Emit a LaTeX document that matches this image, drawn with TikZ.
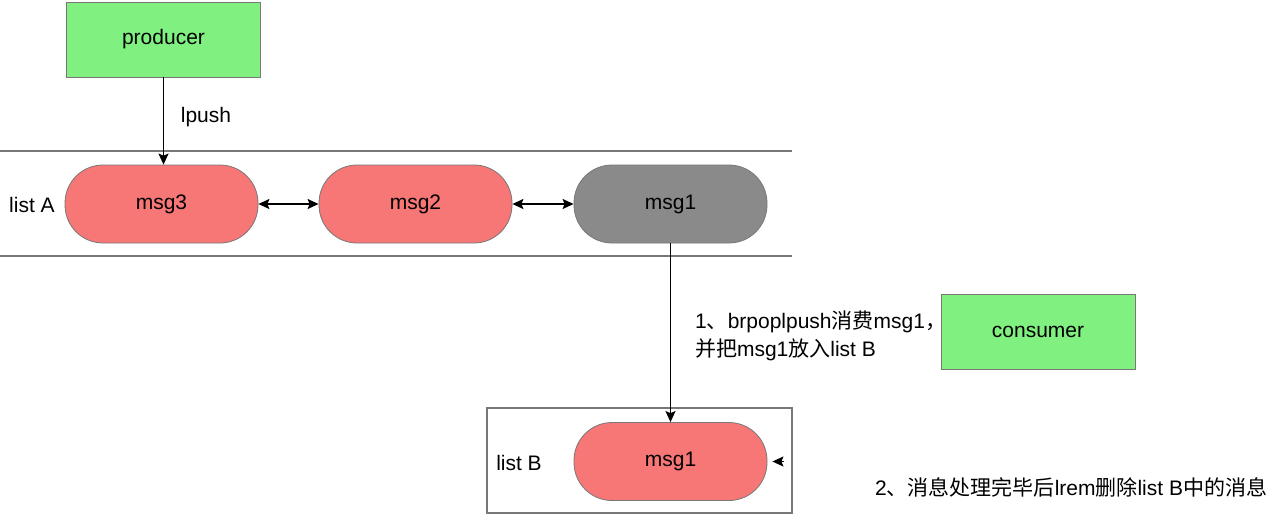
\documentclass[tikz,border=0pt]{standalone}
\usepackage{fontspec}
\setmainfont{Liberation Sans}
\newfontfamily\cjk{Noto Sans CJK SC}
\newcommand\zh[1]{{\cjk #1}}
\usetikzlibrary{arrows.meta}
\definecolor{boxgreen}{RGB}{128,240,128}
\definecolor{msgred}{RGB}{247,118,118}
\definecolor{msggray}{RGB}{138,138,138}
\definecolor{edgegray}{RGB}{120,120,120}

\begin{document}
\begin{tikzpicture}[x=0.5pt,y=-0.5pt,
    >={Stealth[length=5.5pt,width=5pt,inset=1pt]},
    font=\fontsize{10.5}{14}\selectfont,
    role/.style={draw=edgegray,fill=boxgreen,minimum width=97pt,minimum height=37.5pt},
    msg/.style={draw=edgegray,fill=msgred,rounded corners=19pt,minimum width=96.5pt,minimum height=39pt},
    frame/.style={edgegray,line width=0.8pt},
    link/.style={->,line width=0.7pt}]
  \useasboundingbox (0,0) rectangle (1280,516);
  % list A band
  \draw[frame] (0,151)--(792,151);
  \draw[frame] (0,256)--(792,256);
  \node (lA) at (32,205) {list A};
  % list B frame
  \draw[frame] (487,408) rectangle (792,513);
  \node (lB) at (519,463) {list B};

  \node[role] (producer) at (163.5,39.5) {producer};
  \node[role] (consumer) at (1038,332) {consumer};

  \node[msg] (msg3) at (161.5,204) {msg3};
  \node[msg] (msg2) at (415.5,204) {msg2};
  \node[msg,fill=msggray] (msg1) at (670.5,204) {msg1};
  \node[msg] (msgB) at (670.5,461.5) {msg1};

  \draw[link] (producer) -- (producer |- msg3.north)
    node[right=5pt,pos=0.45] (lpush) {lpush};
  \draw[<->,line width=0.7pt] (msg3) -- (msg2);
  \draw[<->,line width=0.7pt] (msg2) -- (msg1);
  \draw[link] (msg1) -- (msgB);
  \coordinate (rem) at (784,461.5);
  \draw[link,shorten >=2.5pt] (rem) -- (msgB.east);

  \node[anchor=west,align=left] (step1) at (688,336)
    {1\zh{、}brpoplpush\zh{消费}msg1\zh{，}\\\zh{并把}msg1\zh{放入}list B};
  \node[anchor=west] (step2) at (868,487)
    {2\zh{、消息处理完毕后}lrem\zh{删除}list B\zh{中的消息}};
\end{tikzpicture}
\end{document}
